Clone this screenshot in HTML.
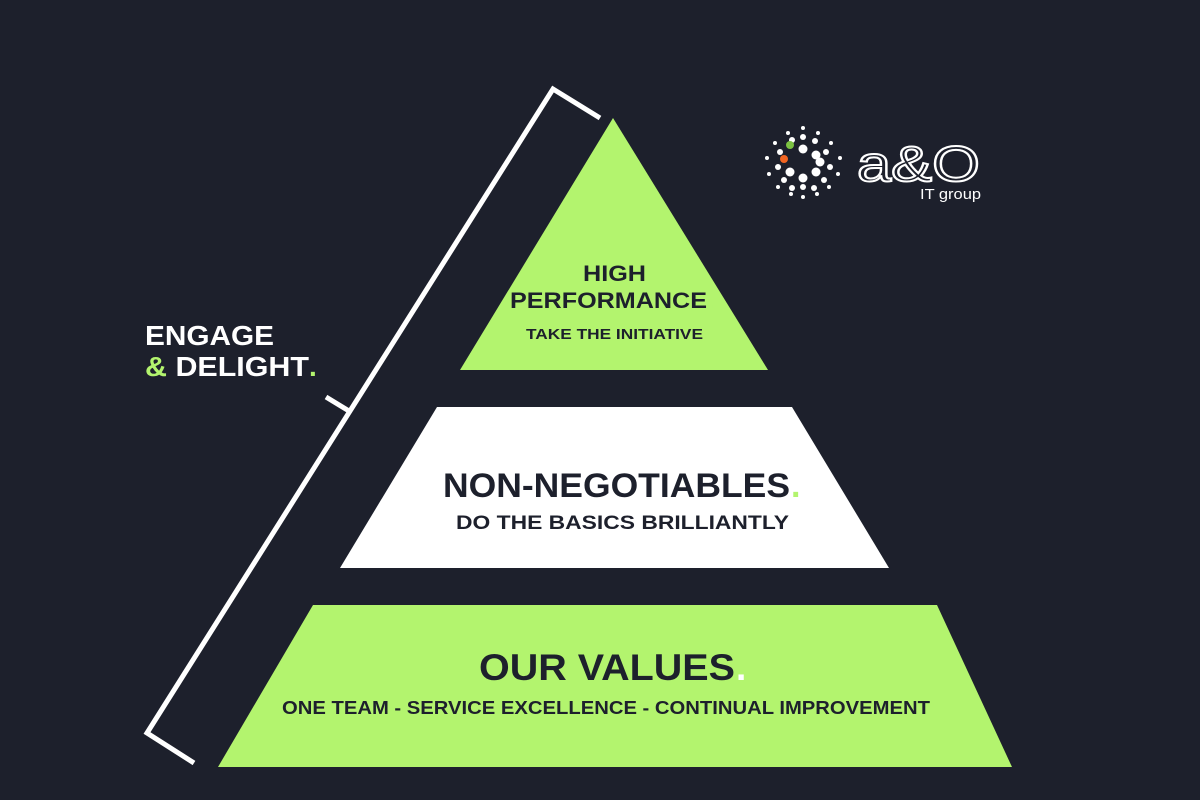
<!DOCTYPE html>
<html><head><meta charset="utf-8"><style>
html,body{margin:0;padding:0;background:#1d202c;}
svg{display:block}
text{font-family:"Liberation Sans",Arial,sans-serif;font-weight:bold}
</style></head><body>
<svg width="1200" height="800" viewBox="0 0 1200 800">
<rect width="1200" height="800" fill="#1d202c"/>
<polygon points="613,118 768,370 460,370" fill="#b3f46e"/>
<polygon points="437,407 792,407 889,568 340,568" fill="#ffffff"/>
<polygon points="313,605 937,605 1012,767 218,767" fill="#b3f46e"/>
<g stroke="#fff" stroke-width="5" fill="none" stroke-linejoin="miter">
<polyline points="600,118 553,89 147,733 194,763"/>
<line x1="326" y1="397" x2="349" y2="411"/>
</g>
<g fill="#1d202c">
<text x="583" y="281" font-size="22" textLength="63" lengthAdjust="spacingAndGlyphs">HIGH</text>
<text x="510" y="308" font-size="22" textLength="197" lengthAdjust="spacingAndGlyphs">PERFORMANCE</text>
<text x="708" y="308" font-size="22" fill="#b3f46e">.</text>
<text x="526" y="339" font-size="15" textLength="177" lengthAdjust="spacingAndGlyphs">TAKE THE INITIATIVE</text>
<text x="443" y="497" font-size="34" textLength="347" lengthAdjust="spacingAndGlyphs">NON-NEGOTIABLES</text>
<text x="791" y="497" font-size="34" fill="#b3f46e">.</text>
<text x="456" y="529" font-size="19.5" textLength="333" lengthAdjust="spacingAndGlyphs">DO THE BASICS BRILLIANTLY</text>
<text x="479" y="680" font-size="37" textLength="256" lengthAdjust="spacingAndGlyphs">OUR VALUES</text>
<text x="736" y="680" font-size="37" fill="#fff">.</text>
<text x="282" y="714" font-size="18" textLength="648" lengthAdjust="spacingAndGlyphs">ONE TEAM - SERVICE EXCELLENCE - CONTINUAL IMPROVEMENT</text>
</g>
<text x="145" y="345" font-size="28" fill="#fff" textLength="129" lengthAdjust="spacingAndGlyphs">ENGAGE</text>
<text x="145" y="376" font-size="28" fill="#fff" textLength="164" lengthAdjust="spacingAndGlyphs"><tspan fill="#b3f46e">&amp;</tspan> DELIGHT</text>
<text x="309" y="376" font-size="28" fill="#b3f46e">.</text>
<!-- logo -->
<g fill="#fff">
<circle cx="803" cy="128" r="2"/><circle cx="788" cy="133" r="2"/><circle cx="818" cy="133" r="2"/>
<circle cx="775" cy="143" r="2"/><circle cx="831" cy="143" r="2"/>
<circle cx="767" cy="158" r="2"/><circle cx="840" cy="158" r="2"/>
<circle cx="769" cy="174" r="2"/><circle cx="838" cy="174" r="2"/>
<circle cx="778" cy="187" r="2"/><circle cx="829" cy="187" r="2"/>
<circle cx="791" cy="194" r="2"/><circle cx="817" cy="194" r="2"/><circle cx="803" cy="197" r="2"/>
<circle cx="792" cy="140" r="3"/><circle cx="803" cy="137" r="3"/><circle cx="815" cy="141" r="3"/>
<circle cx="780" cy="152" r="3"/><circle cx="826" cy="152" r="3"/>
<circle cx="778" cy="167" r="3"/><circle cx="830" cy="167" r="3"/>
<circle cx="784" cy="180" r="3"/><circle cx="824" cy="180" r="3"/>
<circle cx="792" cy="188" r="3"/><circle cx="814" cy="188" r="3"/><circle cx="803" cy="187" r="3"/>
<circle cx="803" cy="149" r="4.5"/><circle cx="816" cy="155" r="4.5"/><circle cx="820" cy="162" r="4.5"/>
<circle cx="790" cy="172" r="4.5"/><circle cx="803" cy="178" r="4.5"/><circle cx="816" cy="172" r="4.5"/>
</g>
<circle cx="790" cy="145" r="4" fill="#7cc242"/>
<circle cx="784" cy="159" r="4" fill="#f26522"/>
<text x="857" y="181" font-size="50" fill="none" stroke="#fff" stroke-width="2" style="font-weight:normal" textLength="123" lengthAdjust="spacingAndGlyphs">a&amp;O</text>
<text x="920" y="199" font-size="15" fill="#fff" style="font-weight:normal" textLength="61" lengthAdjust="spacingAndGlyphs">IT group</text>
</svg>
</body></html>
